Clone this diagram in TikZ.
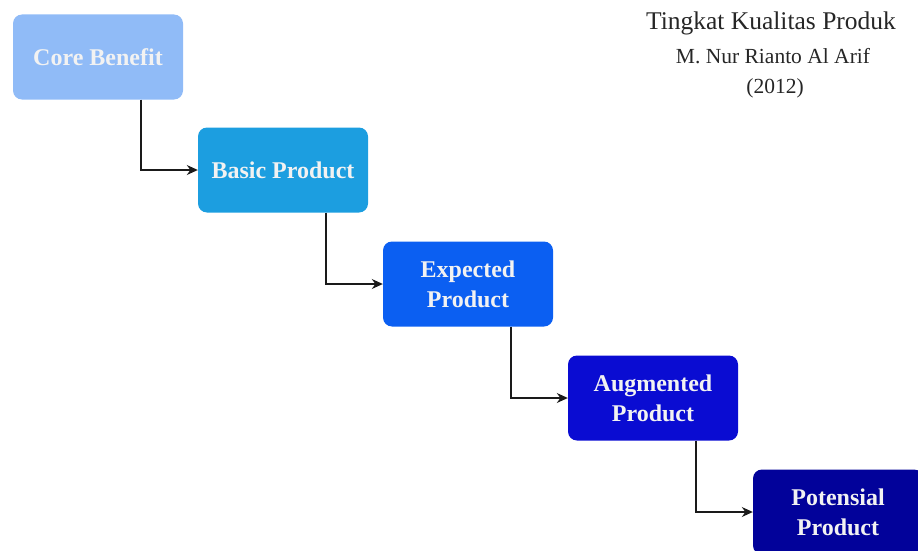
\documentclass[tikz,border=0pt]{standalone}
\usepackage{fontspec}
\IfFontExistsTF{LiberationSerif-Regular.ttf}
  {\setmainfont{LiberationSerif}[Extension=.ttf, UprightFont=*-Regular, BoldFont=*-Bold, ItalicFont=*-Italic, BoldItalicFont=*-BoldItalic]}
  {\setmainfont{Liberation Serif}}
\usetikzlibrary{arrows.meta,calc}
\definecolor{lvA}{HTML}{90BBF7}
\definecolor{lvB}{HTML}{1C9EE0}
\definecolor{lvC}{HTML}{0B5FF2}
\definecolor{lvD}{HTML}{0A0CD2}
\definecolor{lvE}{HTML}{02029A}
\definecolor{linkgray}{HTML}{1A1A1A}
\begin{document}
\begin{tikzpicture}[x=1pt,y=1pt,
  level/.style={rounded corners=9pt, minimum width=170pt, minimum height=85pt,
    inner sep=0pt, align=center, text=white!95!black, font=\bfseries\fontsize{24}{30}\selectfont},
  link/.style={draw=linkgray, line width=1.1pt, -{Stealth[length=11pt,width=10pt]}},
  caption/.style={inner sep=0pt, text=black!85}]
\useasboundingbox (0,0) rectangle (918,-551);
\begin{scope}
\clip (0,0) rectangle (918,-551);
% the five product levels, stepping down to the right
\node[level, fill=lvA] (core) at (98,-57) {Core Benefit};
\node[level, fill=lvB] (basic) at (283,-170) {Basic Product};
\node[level, fill=lvC] (expected) at (468,-284) {Expected\\Product};
\node[level, fill=lvD] (augmented) at (653,-398) {Augmented\\Product};
\node[level, fill=lvE] (potential) at (838,-512) {Potensial\\Product};
\end{scope}
% elbow connectors between consecutive levels
\draw[link] ($(core.south)+(43,0)$) |- (basic.west);
\draw[link] ($(basic.south)+(43,0)$) |- (expected.west);
\draw[link] ($(expected.south)+(43,0)$) |- (augmented.west);
\draw[link] ($(augmented.south)+(43,0)$) |- (potential.west);
% title block
\node[caption, font=\fontsize{25.5}{30}\selectfont] (title) at (771,-23) {Tingkat Kualitas Produk};
\node[caption, font=\fontsize{21.5}{25}\selectfont] (author) at (773,-56) {M. Nur Rianto Al Arif};
\node[caption, font=\fontsize{21.5}{25}\selectfont] (year) at (775,-88) {(2012)};
\end{tikzpicture}
\end{document}
